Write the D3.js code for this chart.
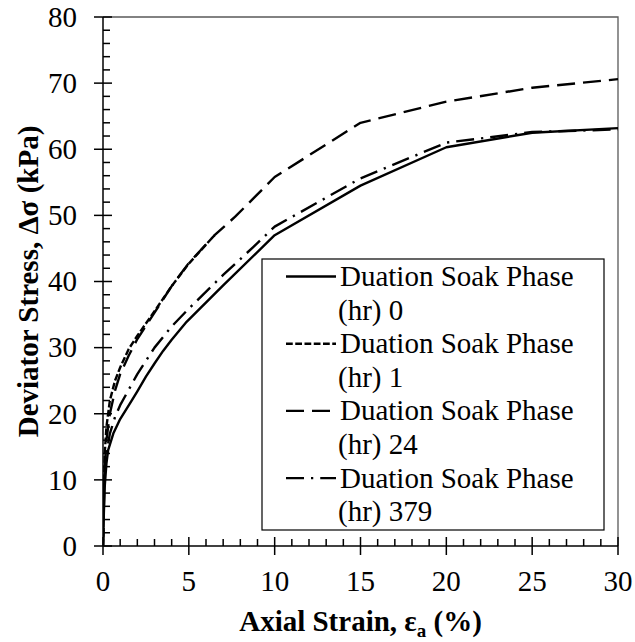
<!DOCTYPE html>
<html>
<head>
<meta charset="utf-8">
<script src="https://cdn.jsdelivr.net/npm/d3@7"></script>
<style>
  html, body { margin: 0; padding: 0; background: #fff; }
  text { font-family: "Liberation Serif", "Times New Roman", serif; fill: #000; }
</style>
</head>
<body>
<svg id="chart" width="635" height="642"></svg>
<script>
// Axial strain (%) and deviator stress (kPa) for each soak duration
const strain0   = [0, 0.05, 0.1, 0.2, 0.3, 0.6, 1, 1.67, 2, 2.5, 3, 3.5, 4, 4.87, 7, 10, 15, 20, 25, 30];
const stress0   = [0, 5, 9, 12.5, 14.5, 17, 19.2, 22, 23.4, 25.6, 27.6, 29.5, 31.2, 33.9, 39.4, 47, 54.5, 60.3, 62.5, 63.2];

const strain1   = [0, 0.05, 0.1, 0.2, 0.4, 0.7, 1, 1.5, 2, 3, 4, 5, 6.5];
const stress1   = [0, 8, 14, 18, 22, 25, 27, 29.8, 31.8, 35.5, 39.3, 42.7, 47];

const strain24  = [0, 0.05, 0.1, 0.2, 0.4, 0.7, 1, 1.5, 2, 3, 4, 5, 6.5, 7.7, 10, 15, 20, 25, 30];
const stress24  = [0, 7, 12, 16, 20, 23.5, 26, 28.8, 31.3, 35.3, 39.3, 42.8, 47, 49.8, 55.8, 64, 67.2, 69.3, 70.6];

const strain379 = [0, 0.05, 0.1, 0.2, 0.4, 0.7, 1, 2, 3, 4, 5, 7, 8.75, 10, 15, 20, 25, 30];
const stress379 = [0, 6, 11, 14, 17, 19.5, 21.3, 26, 30, 33.2, 35.9, 41, 45.2, 48.3, 55.6, 61, 62.6, 63];

const seriesNames = ["Duation Soak Phase (hr) 0", "Duation Soak Phase (hr) 1",
                     "Duation Soak Phase (hr) 24", "Duation Soak Phase (hr) 379"];
const xTicks = [0, 5, 10, 15, 20, 25, 30];
const yTicks = [0, 10, 20, 30, 40, 50, 60, 70, 80];

const series = [
  { name: seriesNames[0], xs: strain0,   ys: stress0,   dash: null },
  { name: seriesNames[1], xs: strain1,   ys: stress1,   dash: "6.75,2.5" },
  { name: seriesNames[2], xs: strain24,  ys: stress24,  dash: "18,8" },
  { name: seriesNames[3], xs: strain379, ys: stress379, dash: "18,7,2.25,7" }
];

const plotL = 103, plotR = 618, plotT = 17, plotB = 546;
const x = d3.scaleLinear().domain([0, 30]).range([plotL, plotR]);
const y = d3.scaleLinear().domain([0, 80]).range([plotB, plotT]);

const svg = d3.select("#chart")
  .attr("font-family", "'Liberation Serif', 'Times New Roman', serif");

svg.append("defs").append("clipPath").attr("id", "plotClip")
  .append("rect").attr("x", plotL).attr("y", plotT - 2)
  .attr("width", plotR - plotL + 2).attr("height", plotB - plotT + 2);

// plot frame (top and right edges)
svg.append("path")
  .attr("d", `M${plotL},${plotT}H${plotR}V${plotB}`)
  .attr("fill", "none").attr("stroke", "#595959").attr("stroke-width", 1.3);

// curves
const line = d3.line().x(d => x(d[0])).y(d => y(d[1]));
svg.append("g").attr("clip-path", "url(#plotClip)")
  .selectAll("path").data(series).join("path")
  .attr("d", s => line(s.xs.map((v, i) => [v, s.ys[i]])))
  .attr("fill", "none").attr("stroke", "#000").attr("stroke-width", 2.4)
  .attr("stroke-linejoin", "round")
  .attr("stroke-dasharray", s => s.dash);

// axes with crossing major ticks and inside minor ticks
const minorY = d3.range(0, 80.001, 2).filter(v => v % 10 !== 0);
const minorX = d3.range(0, 30.001, 1).filter(v => v % 5 !== 0);
const ax = svg.append("g").attr("stroke", "#000").attr("stroke-width", 1.5);
ax.append("line").attr("x1", plotL).attr("x2", plotL).attr("y1", plotT).attr("y2", plotB);
ax.append("line").attr("x1", plotL).attr("x2", plotR).attr("y1", plotB).attr("y2", plotB);
ax.selectAll(".ymaj").data(yTicks).join("line")
  .attr("x1", plotL - 9).attr("x2", plotL + 9).attr("y1", d => y(d)).attr("y2", d => y(d));
ax.selectAll(".ymin").data(minorY).join("line")
  .attr("x1", plotL).attr("x2", plotL + 7).attr("y1", d => y(d)).attr("y2", d => y(d));
ax.selectAll(".xmaj").data(xTicks).join("line")
  .attr("y1", plotB - 9).attr("y2", plotB + 9).attr("x1", d => x(d)).attr("x2", d => x(d));
ax.selectAll(".xmin").data(minorX).join("line")
  .attr("y1", plotB).attr("y2", plotB - 7).attr("x1", d => x(d)).attr("x2", d => x(d));

// tick labels
svg.append("g").selectAll("text").data(yTicks).join("text")
  .attr("x", 77).attr("y", d => y(d)).attr("dy", "0.34em")
  .attr("text-anchor", "end").attr("font-size", 29).text(d => d);
svg.append("g").selectAll("text").data(xTicks).join("text")
  .attr("x", d => x(d)).attr("y", 591)
  .attr("text-anchor", "middle").attr("font-size", 29).text(d => d);

// axis titles
const xt = svg.append("text").attr("x", (plotL + plotR) / 2).attr("y", 631)
  .attr("text-anchor", "middle").attr("font-size", 29).attr("font-weight", "bold");
xt.append("tspan").text("Axial Strain, ε");
xt.append("tspan").attr("font-size", 19).attr("dy", 6).text("a");
xt.append("tspan").attr("dy", -6).text(" (%)");

svg.append("text")
  .attr("transform", `translate(38,${(plotT + plotB) / 2}) rotate(-90)`)
  .attr("text-anchor", "middle").attr("font-size", 29).attr("font-weight", "bold")
  .text("Deviator Stress, Δσ (kPa)");

// legend
const lg = svg.append("g");
lg.append("rect").attr("x", 262).attr("y", 259).attr("width", 342).attr("height", 271)
  .attr("fill", "#fff").attr("stroke", "#000").attr("stroke-width", 1.2);
const rowH = 33.6;
series.forEach((s, i) => {
  const base = 286 + i * 2 * rowH;
  const parts = s.name.split(" (");
  lg.append("line").attr("x1", 286).attr("x2", 336)
    .attr("y1", base - 9.5).attr("y2", base - 9.5)
    .attr("stroke", "#000").attr("stroke-width", 2.4).attr("stroke-dasharray", s.dash);
  lg.append("text").attr("x", 340).attr("y", base).attr("font-size", 29).text(parts[0]);
  lg.append("text").attr("x", 338).attr("y", base + rowH).attr("font-size", 29).text("(" + parts[1]);
});
</script>
</body>
</html>
